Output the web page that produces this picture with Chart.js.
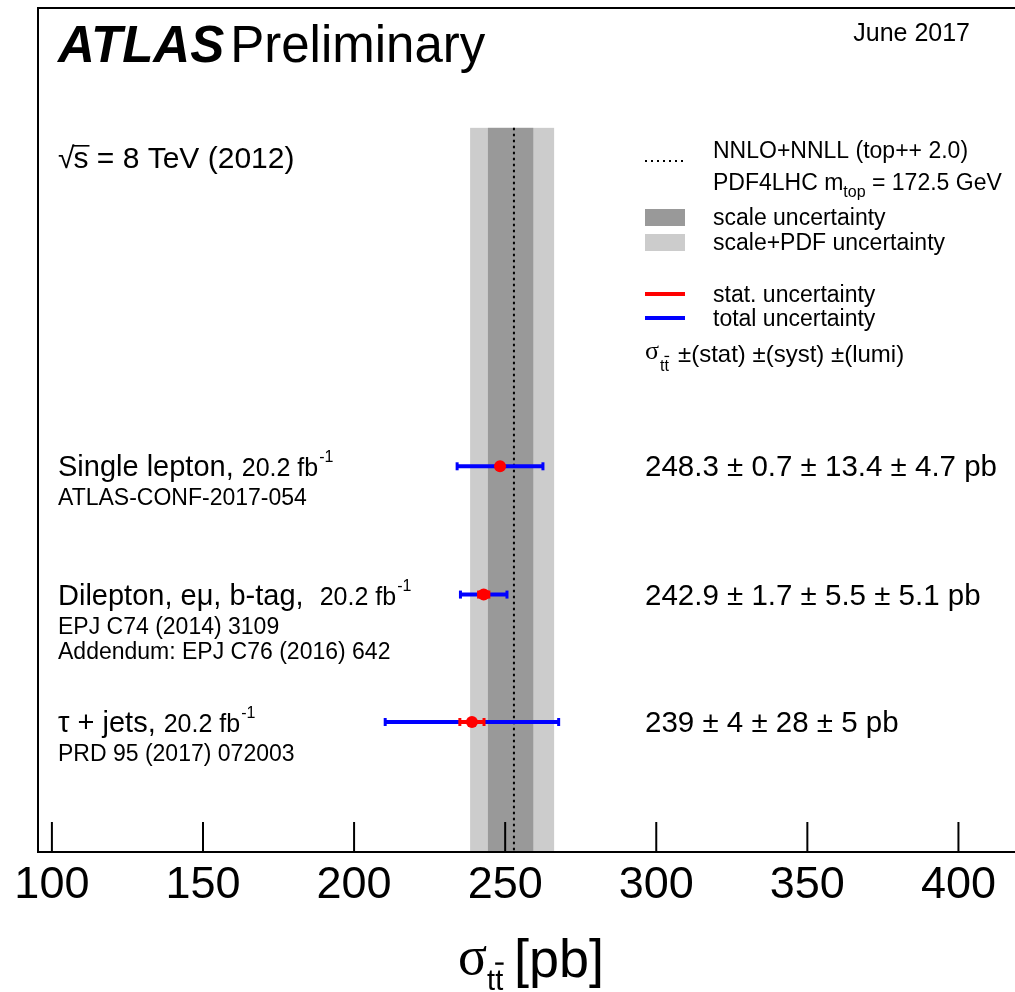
<!DOCTYPE html>
<html>
<head>
<meta charset="utf-8">
<script src="https://cdn.jsdelivr.net/npm/chart.js@4/dist/chart.umd.min.js"></script>
<style>
  html, body { margin: 0; padding: 0; background: #fff; overflow: hidden; }
  #wrap { width: 1015px; height: 992px; position: relative; }
</style>
</head>
<body>
<div id="wrap"><canvas id="xsec"></canvas></div>
<script>
// Mediciones (8 TeV, 2012)
const rowLabels = ["Single lepton,", "Dilepton, e\u03bc, b-tag, ", "\u03c4 + jets,"];
const lumiLabels = ["20.2 fb", "20.2 fb", "20.2 fb"];
const refLabels = [
  ["ATLAS-CONF-2017-054"],
  ["EPJ C74 (2014) 3109", "Addendum: EPJ C76 (2016) 642"],
  ["PRD 95 (2017) 072003"]
];
const xsec = [248.3, 242.9, 239];
const statUnc = [0.7, 1.7, 4];
const systUnc = [13.4, 5.5, 28];
const lumiUnc = [4.7, 5.1, 5];
const totalUnc = [14.2, 7.7, 28.7];
const rowPos = [0.457, 0.305, 0.154];

// Prediccion teorica NNLO+NNLL
const theoryCentral = 252.9;
const scaleBand = [244.3, 259.3];
const scalePdfBand = [238.4, 266.2];
const bandTop = 0.858;

const xTicks = [100, 150, 200, 250, 300, 350, 400];
const xMin = 95.4;
const xMax = 416.4;

const SANS = "'Liberation Sans', Arial, Helvetica, sans-serif";
const SERIF = "'Liberation Serif', 'Times New Roman', serif";

// datasets: barras de error
const datasets = [];
datasets.push({
  label: "central",
  order: 0,
  data: xsec.map((v, i) => ({ x: v, y: rowPos[i] })),
  pointRadius: 6,
  pointBackgroundColor: "#ff0000",
  pointBorderColor: "#ff0000",
  pointBorderWidth: 0,
  showLine: false
});
for (let i = 0; i < xsec.length; i++) {
  datasets.push({
    label: "stat " + i,
    order: 1,
    data: [
      { x: xsec[i] - statUnc[i], y: rowPos[i] },
      { x: xsec[i] + statUnc[i], y: rowPos[i] }
    ],
    showLine: true,
    borderColor: "#ff0000",
    borderWidth: 4,
    pointStyle: "line",
    pointRotation: 90,
    pointRadius: 4,
    pointBorderWidth: 3,
    pointBorderColor: "#ff0000"
  });
  datasets.push({
    label: "total " + i,
    order: 2,
    data: [
      { x: xsec[i] - totalUnc[i], y: rowPos[i] },
      { x: xsec[i] + totalUnc[i], y: rowPos[i] }
    ],
    showLine: true,
    borderColor: "#0000ff",
    borderWidth: 4,
    pointStyle: "line",
    pointRotation: 90,
    pointRadius: 4,
    pointBorderWidth: 3,
    pointBorderColor: "#0000ff"
  });
}

function txt(ctx, s, x, y, font, align) {
  ctx.font = font;
  ctx.textAlign = align || "left";
  ctx.fillText(s, x, y);
  return ctx.measureText(s).width;
}

// dibuja "tt" con barra sobre la segunda t
function ttbar(ctx, x, y, size) {
  ctx.font = size + "px " + SANS;
  ctx.textAlign = "left";
  const w1 = ctx.measureText("t").width;
  ctx.fillText("t", x, y);
  ctx.fillText("t", x + w1, y);
  ctx.fillRect(x + w1, y - size * 0.95, w1 * 1.05, Math.max(1.2, size * 0.08));
  return w1 * 2;
}

const atlasPlugin = {
  id: "atlasPlugin",
  beforeDatasetsDraw(chart) {
    const ctx = chart.ctx;
    const xs = chart.scales.x;
    const ys = chart.scales.y;
    const top = ys.getPixelForValue(bandTop);
    const bottom = chart.chartArea.bottom;
    ctx.save();
    // scale+PDF
    let a = xs.getPixelForValue(scalePdfBand[0]);
    let b = xs.getPixelForValue(scalePdfBand[1]);
    ctx.fillStyle = "#cccccc";
    ctx.fillRect(a, top, b - a, bottom - top);
    // scale
    a = xs.getPixelForValue(scaleBand[0]);
    b = xs.getPixelForValue(scaleBand[1]);
    ctx.fillStyle = "#999999";
    ctx.fillRect(a, top, b - a, bottom - top);
    // central
    const c = xs.getPixelForValue(theoryCentral);
    ctx.strokeStyle = "#000";
    ctx.lineWidth = 2;
    ctx.setLineDash([2.5, 3.5]);
    ctx.beginPath();
    ctx.moveTo(c, top);
    ctx.lineTo(c, bottom);
    ctx.stroke();
    ctx.restore();
  },
  afterDraw(chart) {
    const ctx = chart.ctx;
    const area = chart.chartArea;
    const xs = chart.scales.x;
    const ys = chart.scales.y;
    ctx.save();
    ctx.fillStyle = "#000";
    ctx.strokeStyle = "#000";
    ctx.textBaseline = "alphabetic";

    // marco
    ctx.lineWidth = 2;
    ctx.strokeRect(area.left, area.top, area.right - area.left + 40, area.bottom - area.top);

    // ticks hacia adentro
    ctx.lineWidth = 2;
    xTicks.forEach(t => {
      const px = xs.getPixelForValue(t);
      ctx.beginPath();
      ctx.moveTo(px, area.bottom);
      ctx.lineTo(px, area.bottom - 30);
      ctx.stroke();
      txt(ctx, String(t), px, area.bottom + 46, "45px " + SANS, "center");
    });

    // titulo del eje
    let x = 458;
    const yT = 977;
    ctx.font = "54px " + SERIF;
    ctx.textAlign = "left";
    ctx.fillText("\u03c3", x, yT - 3);
    x += ctx.measureText("\u03c3").width;
    ttbar(ctx, x, yT + 13, 29);
    txt(ctx, "[pb]", 514, yT, "54px " + SANS);

    // cabecera
    let w = txt(ctx, "ATLAS", 58, 62, "italic bold 51px " + SANS);
    txt(ctx, "Preliminary", 58 + w + 6, 62, "51px " + SANS);
    txt(ctx, "June 2017", 970, 41, "25px " + SANS, "right");
    // raiz con barra sobre la s
    ctx.font = "30px " + SANS;
    ctx.textAlign = "left";
    const wr = ctx.measureText("\u221a").width;
    ctx.fillText("\u221a", 58, 168);
    const ws = ctx.measureText("s").width;
    ctx.fillText("s", 58 + wr - 1, 168);
    ctx.fillRect(58 + wr - 2, 145, ws + 2, 1.6);
    txt(ctx, " = 8 TeV (2012)", 58 + wr - 1 + ws, 168, "30px " + SANS);

    // leyenda
    const lx = 645, tx = 713;
    ctx.save();
    ctx.lineWidth = 2;
    ctx.setLineDash([2, 4]);
    ctx.beginPath();
    ctx.moveTo(lx, 161);
    ctx.lineTo(lx + 40, 161);
    ctx.stroke();
    ctx.restore();
    txt(ctx, "NNLO+NNLL (top++ 2.0)", tx, 158, "23px " + SANS);
    w = txt(ctx, "PDF4LHC m", tx, 190, "23px " + SANS);
    let w2 = txt(ctx, "top", tx + w, 197, "16px " + SANS);
    txt(ctx, " = 172.5 GeV", tx + w + w2, 190, "23px " + SANS);
    ctx.fillStyle = "#999999";
    ctx.fillRect(lx, 209, 40, 17);
    ctx.fillStyle = "#cccccc";
    ctx.fillRect(lx, 234, 40, 17);
    ctx.fillStyle = "#000";
    txt(ctx, "scale uncertainty", tx, 225, "23px " + SANS);
    txt(ctx, "scale+PDF uncertainty", tx, 250, "23px " + SANS);
    ctx.fillStyle = "#ff0000";
    ctx.fillRect(lx, 292, 40, 4);
    ctx.fillStyle = "#0000ff";
    ctx.fillRect(lx, 316, 40, 4);
    ctx.fillStyle = "#000";
    txt(ctx, "stat. uncertainty", tx, 302, "23px " + SANS);
    txt(ctx, "total uncertainty", tx, 326, "23px " + SANS);
    x = lx;
    ctx.font = "26px " + SERIF;
    ctx.textAlign = "left";
    ctx.fillText("\u03c3", x, 359);
    x += ctx.measureText("\u03c3").width + 1;
    ttbar(ctx, x, 371, 16);
    txt(ctx, "\u00b1(stat) \u00b1(syst) \u00b1(lumi)", 678, 362, "24px " + SANS);

    // etiquetas de cada medicion
    rowLabels.forEach((lab, i) => {
      const py = ys.getPixelForValue(rowPos[i]);
      let w = txt(ctx, lab, 58, py + 10, "29px " + SANS);
      let w2 = txt(ctx, lumiLabels[i], 58 + w + 8, py + 10, "25px " + SANS);
      txt(ctx, "-1", 58 + w + 8 + w2 + 1, py - 4, "16px " + SANS);
      refLabels[i].forEach((r, k) => {
        txt(ctx, r, 58, py + 39 + k * 25, "23px " + SANS);
      });
      const val = xsec[i] + " \u00b1 " + statUnc[i] + " \u00b1 " + systUnc[i] +
        " \u00b1 " + lumiUnc[i] + " pb";
      txt(ctx, val, 645, py + 10, "29.5px " + SANS);
    });
    ctx.restore();
  }
};

const ctx = document.getElementById("xsec");
const chart = new Chart(ctx, {
  type: "scatter",
  data: { datasets: datasets },
  options: {
    responsive: true,
    maintainAspectRatio: false,
    animation: false,
    layout: { padding: { left: 38, top: 8, right: 0, bottom: 140 } },
    plugins: { legend: { display: false }, tooltip: { enabled: false } },
    scales: {
      x: { type: "linear", min: xMin, max: xMax, display: false },
      y: { type: "linear", min: 0, max: 1, display: false }
    }
  },
  plugins: [atlasPlugin]
});
</script>
</body>
</html>
